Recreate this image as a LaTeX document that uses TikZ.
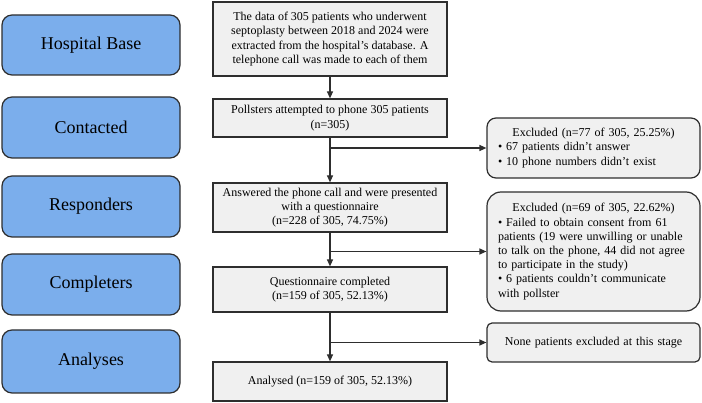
\documentclass[tikz,border=0pt]{standalone}
\usepackage{fontspec}
\setmainfont{Liberation Serif}
\usepackage{xcolor}
\usetikzlibrary{arrows.meta, positioning}
\definecolor{stageblue}{HTML}{7BAEEC}
\definecolor{boxgray}{HTML}{F0F0F0}
\definecolor{edgegray}{HTML}{2E2E2E}

\begin{document}
\begin{tikzpicture}[
    x=1pt, y=1pt,
    >={Triangle[width=6pt,length=7pt]},
    stage/.style={draw=edgegray, line width=1.2pt, fill=stageblue, rounded corners=10pt,
        minimum width=178pt, font=\fontsize{18}{21}\selectfont},
    flowbox/.style={draw=edgegray, line width=1.2pt, fill=boxgray,
        minimum width=234pt, align=center, inner sep=2pt,
        font=\fontsize{12}{14.3}\selectfont},
    exbox/.style={draw=edgegray, line width=1.2pt, fill=boxgray, rounded corners=9pt,
        minimum width=213pt, align=left, text width=191pt,
        font=\fontsize{12}{14.2}\selectfont},
    flow/.style={->, line width=1.2pt, draw=edgegray},
]
\useasboundingbox (0,0) rectangle (702,-403);
% stages on the left
\node[stage, minimum height=60pt] (hosp) at (91,-45) {Hospital Base};
\node[stage, minimum height=61pt] (cont) at (91,-127.5) {Contacted};
\node[stage, minimum height=61pt] (resp) at (91,-206.5) {Responders};
\node[stage, minimum height=61pt] (compl) at (91,-284.5) {Completers};
\node[stage, minimum height=63pt] (anal) at (91,-361.5) {Analyses};
% main flow
\node[flowbox, minimum height=74pt] (data) at (330,-39)
    {The data of 305 patients who underwent\\septoplasty between 2018 and 2024 were\\extracted from the hospital's database. A\\telephone call was made to each of them};
\node[flowbox, minimum height=38pt] (poll) at (330,-118)
    {Pollsters attempted to phone 305 patients\\(n=305)};
\node[flowbox, minimum height=49pt] (answ) at (330,-207.5)
    {Answered the phone call and were presented\\with a questionnaire\\(n=228 of 305, 74.75\%)};
\node[flowbox, minimum height=45pt] (quest) at (330,-289.5)
    {Questionnaire completed\\(n=159 of 305, 52.13\%)};
\node[flowbox, minimum height=39pt] (final) at (330,-381.5)
    {Analysed (n=159 of 305, 52.13\%)};
% exclusions
\node[exbox, minimum height=60pt] (ex1) at (593.5,-148)
    {{\centering Excluded (n=77 of 305, 25.25\%)\par}%
     • 67 patients didn't answer\\• 10 phone numbers didn't exist};
\node[exbox, minimum height=119pt, rounded corners=14pt] (ex2) at (593.5,-251.5)
    {{\centering Excluded (n=69 of 305, 22.62\%)\par}%
     • Failed to obtain consent from 61\\patients (19 were unwilling or unable\\to talk on the phone, 44 did not agree\\to participate in the study)\\• 6 patients couldn't communicate\\with pollster};
\node[exbox, minimum height=39pt, rounded corners=5pt, align=center] (ex3) at (593.5,-342.5)
    {None patients excluded at this stage};
% connectors
\draw[flow] (data) -- (poll);
\draw[flow] (poll) -- (answ);
\draw[flow] (answ) -- (quest);
\draw[flow] (quest) -- (final);
\draw[flow] (poll.south |- ex1.west) -- (ex1.west);
\draw[flow] (answ.south |- ex2.west) -- (ex2.west);
\draw[flow] (quest.south |- ex3.west) -- (ex3.west);
\end{tikzpicture}
\end{document}
